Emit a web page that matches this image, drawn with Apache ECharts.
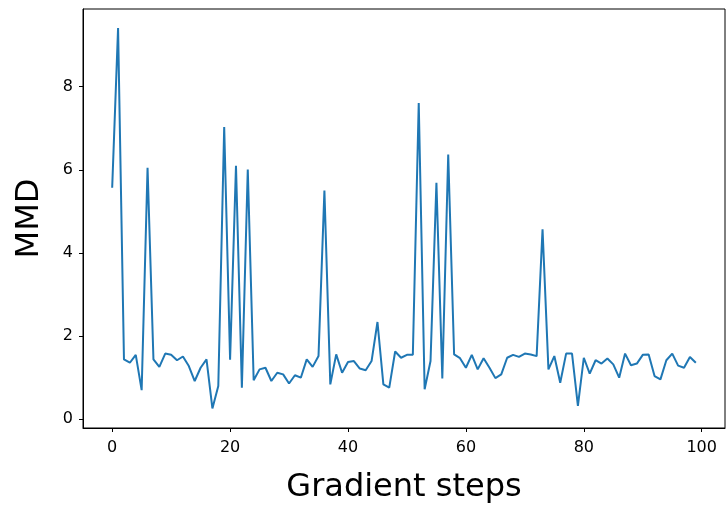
<!DOCTYPE html>
<html>
<head>
<meta charset="utf-8">
<script src="https://cdn.jsdelivr.net/npm/echarts@6/dist/echarts.min.js"></script>
<style>
html,body{margin:0;padding:0;background:#fff;}
#chart{width:726px;height:510px;}
</style>
</head>
<body>
<div id="chart"></div>
<script>
const mmd = [5.57, 9.41, 1.44, 1.36, 1.55, 0.70, 6.05, 1.44, 1.26, 1.58,
  1.55, 1.42, 1.51, 1.28, 0.92, 1.24, 1.44, 0.26, 0.80, 7.03,
  1.43, 6.10, 0.76, 6.01, 0.94, 1.20, 1.24, 0.92, 1.12, 1.08,
  0.86, 1.06, 1.00, 1.44, 1.26, 1.52, 5.50, 0.84, 1.56, 1.12,
  1.38, 1.40, 1.22, 1.18, 1.40, 2.34, 0.84, 0.76, 1.63, 1.48,
  1.55, 1.55, 7.61, 0.72, 1.40, 5.69, 0.98, 6.37, 1.56, 1.47,
  1.24, 1.55, 1.20, 1.47, 1.24, 0.99, 1.08, 1.48, 1.55, 1.50,
  1.58, 1.56, 1.52, 4.57, 1.20, 1.52, 0.88, 1.58, 1.58, 0.32,
  1.48, 1.10, 1.42, 1.34, 1.46, 1.32, 1.00, 1.58, 1.30, 1.34,
  1.55, 1.56, 1.04, 0.96, 1.42, 1.58, 1.29, 1.24, 1.50, 1.36];
const steps = mmd.map((_, i) => i);
const xTicks = [0, 20, 40, 60, 80, 100];
const yTicks = [0, 2, 4, 6, 8];
const xTitle = 'Gradient steps';
const yTitle = 'MMD';

const chart = echarts.init(document.getElementById('chart'), null, {renderer: 'canvas'});
const font = 'DejaVu Sans';
chart.setOption({
  animation: false,
  backgroundColor: '#fff',
  grid: {left: 83, right: 1, top: 9, bottom: 82, show: true, borderColor: '#000', borderWidth: 1, backgroundColor: 'transparent'},
  xAxis: {
    type: 'value', min: -4.95, max: 103.95,
    name: xTitle, nameLocation: 'middle', nameGap: 44,
    nameTextStyle: {fontFamily: font, fontSize: 32, color: '#000'},
    axisLine: {show: true, onZero: false, lineStyle: {color: '#000', width: 1}},
    axisTick: {show: true, customValues: xTicks, length: 4, lineStyle: {color: '#000'}},
    axisLabel: {customValues: xTicks, fontFamily: font, fontSize: 16, color: '#000', margin: 12},
    splitLine: {show: false}
  },
  yAxis: {
    type: 'value', min: -0.21, max: 9.87,
    name: yTitle, nameLocation: 'middle', nameGap: 37, nameRotate: 90,
    nameTextStyle: {fontFamily: font, fontSize: 32, color: '#000'},
    axisLine: {show: true, onZero: false, lineStyle: {color: '#000', width: 1}},
    axisTick: {show: true, customValues: yTicks, length: 4, lineStyle: {color: '#000'}},
    axisLabel: {customValues: yTicks, fontFamily: font, fontSize: 16, color: '#000', margin: 10},
    splitLine: {show: false}
  },
  series: [{
    type: 'line',
    data: steps.map((s, i) => [s, mmd[i]]),
    showSymbol: false,
    lineStyle: {color: '#1f77b4', width: 2},
    itemStyle: {color: '#1f77b4'}
  }]
});
</script>
</body>
</html>
